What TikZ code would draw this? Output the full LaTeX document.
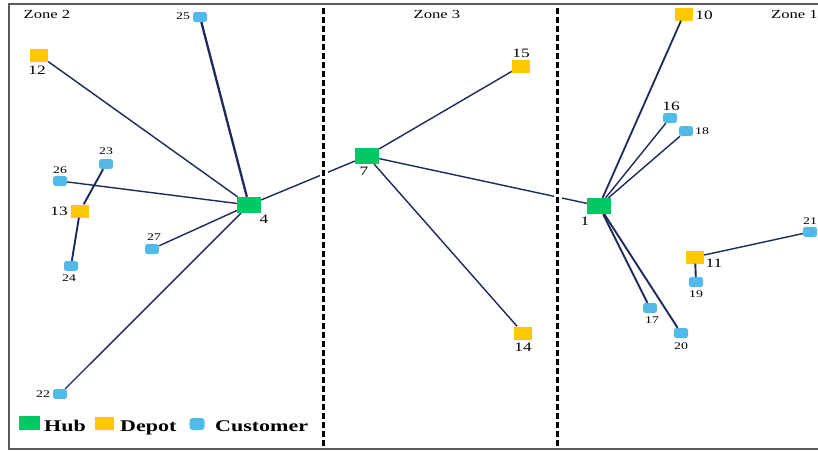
\documentclass[tikz,border=0pt]{standalone}
\usepackage{fontspec}
\setmainfont[FakeStretch=1.35]{Liberation Serif}
\definecolor{hubc}{RGB}{0,200,100}
\definecolor{depc}{RGB}{255,200,0}
\definecolor{cusc}{RGB}{82,186,232}
\definecolor{edgec}{RGB}{30,42,92}
\definecolor{framec}{RGB}{90,90,90}
\begin{document}
\begin{tikzpicture}[x=1pt,y=-1pt,
 hub/.style={rectangle,fill=hubc,minimum width=24pt,minimum height=16pt,inner sep=0pt},
 depot/.style={rectangle,fill=depc,minimum width=18pt,minimum height=13pt,inner sep=0pt},
 cust/.style={rectangle,rounded corners=2.5pt,fill=cusc,minimum width=14pt,minimum height=10pt,inner sep=0pt},
 big/.style={font=\fontsize{12.8}{13}\selectfont,inner sep=0pt},
 small/.style={font=\fontsize{10.2}{11}\selectfont,inner sep=0pt},
 zone/.style={font=\fontsize{12.3}{13}\selectfont,inner sep=0pt},
 leg/.style={font=\fontsize{16.3}{18}\selectfont\bfseries,inner sep=0pt,anchor=base west},
 link/.style={draw=edgec,line width=1.4pt},
 zoneline/.style={line width=2.3pt,dash pattern=on 6pt off 3pt}]
\useasboundingbox (0,0) rectangle (818,451);
\fill[white] (0,0) rectangle (818,451);
% frame
\draw[framec,line width=1.5pt] (818,4) -- (9,4) -- (9,449) -- (818,449);

% hubs
\node[hub] (n4) at (249,205) {};
\node[hub] (n7) at (367,156) {};
\node[hub] (n1) at (599,206) {};
% depots
\node[depot] (n12) at (39,55) {};
\node[depot] (n13) at (80,211) {};
\node[depot] (n15) at (521,66) {};
\node[depot] (n14) at (523,333) {};
\node[depot] (n10) at (684,14) {};
\node[depot] (n11) at (695,257) {};
% customers
\node[cust] (n25) at (200,17) {};
\node[cust] (n23) at (106,164) {};
\node[cust] (n26) at (60,181) {};
\node[cust] (n24) at (71,266) {};
\node[cust] (n27) at (152,249) {};
\node[cust] (n22) at (60,394) {};
\node[cust] (n16) at (670,118) {};
\node[cust] (n18) at (686,131) {};
\node[cust] (n17) at (650,308) {};
\node[cust] (n20) at (681,333) {};
\node[cust] (n19) at (696,282) {};
\node[cust] (n21) at (810,232) {};

% labels
\node[small] (t25) at (183,16) {25};
\node[big] (t12) at (37,70) {12};
\node[small] (t23) at (106,151) {23};
\node[small] (t26) at (60,170) {26};
\node[big] (t13) at (59,211) {13};
\node[big] (t4) at (264,219) {4};
\node[small] (t27) at (154,237) {27};
\node[small] (t24) at (69,278) {24};
\node[small] (t22) at (43,394) {22};
\node[big] (t15) at (521,53) {15};
\node[big] (t7) at (364,171) {7};
\node[big] (t14) at (523,347) {14};
\node[big] (t10) at (704,15) {10};
\node[big] (t16) at (671,106) {16};
\node[small] (t18) at (702,131) {18};
\node[big] (t1) at (585,221) {1};
\node[small] (t21) at (810,221) {21};
\node[big] (t11) at (714,263) {11};
\node[small] (t19) at (696,294) {19};
\node[small] (t17) at (652,320) {17};
\node[small] (t20) at (681,346) {20};

% zone titles
\node[zone] (z2) at (47,14) {Zone 2};
\node[zone] (z3) at (437,14) {Zone 3};
\node[zone,anchor=west] (z1) at (771,14) {Zone 1};

% edges
\draw[link] (n12) -- (n4);
\draw[link,line width=2.3pt] (n25) -- (n4);
\draw[link] (n26) -- (n4);
\draw[link] (n27) -- (n4);
\draw[link] (n22) -- (n4);
\draw[link,line width=1.9pt] (n23) -- (n13);
\draw[link,line width=1.9pt] (n13) -- (n24);
\draw[link] (n4) -- (n7);
\draw[link] (n7) -- (n15);
\draw[link] (n7) -- (n14);
\draw[link] (n7) -- (n1);
\draw[link,line width=1.8pt] (n1) -- (n10);
\draw[link] (n1) -- (n16);
\draw[link] (n1) -- (n18);
\draw[link,line width=1.9pt] (n1) -- (n17);
\draw[link,line width=1.9pt] (n1) -- (n20);
\draw[link] (n11) -- (n21);
\draw[link,line width=1.9pt] (n11) -- (n19);

% zone separators
\coordinate (s1t) at (323.5,8);
\coordinate (s1b) at (323.5,447);
\coordinate (s2t) at (557.5,8);
\coordinate (s2b) at (557.5,447);
\draw[white,line width=8pt] (s1t) -- (s1b);
\draw[white,line width=8pt] (s2t) -- (s2b);
\draw[zoneline] (s1t) -- (s1b);
\draw[zoneline] (s2t) -- (s2b);

% legend
\node[rectangle,fill=hubc,minimum width=21pt,minimum height=14pt,inner sep=0pt] (lh) at (29,423) {};
\node[leg] (lht) at (44,431) {Hub};
\node[rectangle,fill=depc,minimum width=19pt,minimum height=13pt,inner sep=0pt] (ld) at (104,423) {};
\node[leg] (ldt) at (120,431) {Depot};
\node[rectangle,rounded corners=3pt,fill=cusc,minimum width=15pt,minimum height=12pt,inner sep=0pt] (lc) at (197,424) {};
\node[leg] (lct) at (215,431) {Customer};
\end{tikzpicture}
\end{document}
